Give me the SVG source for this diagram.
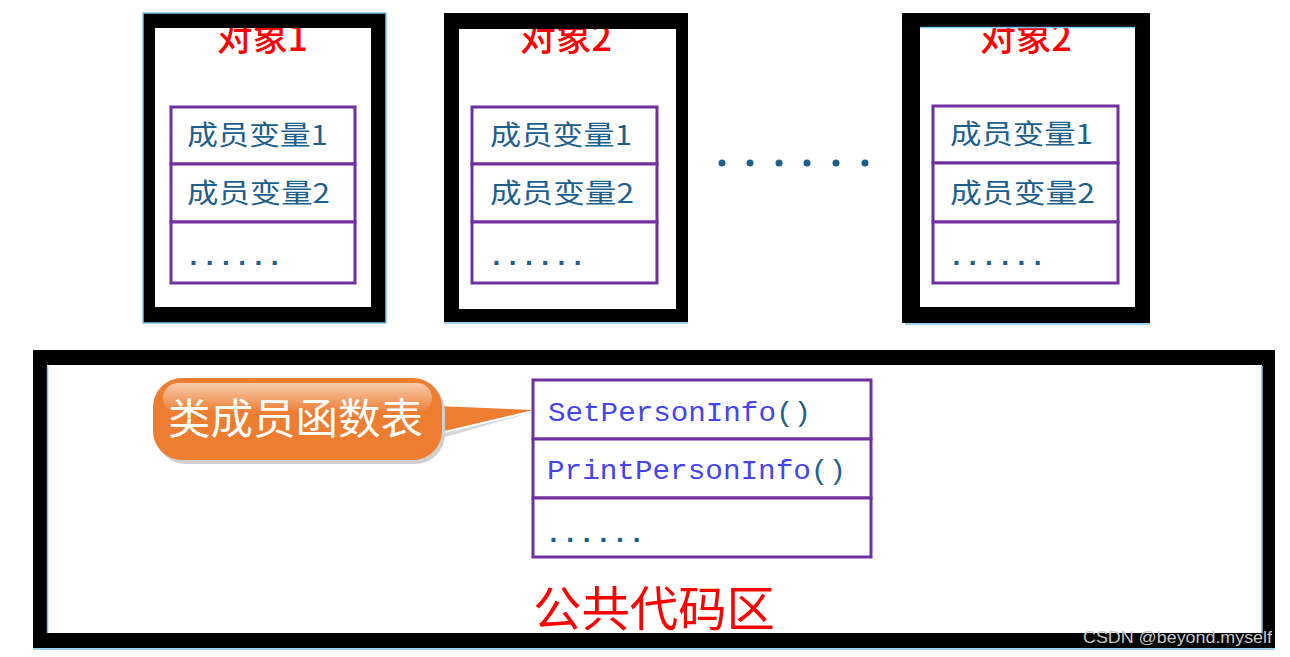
<svg xmlns="http://www.w3.org/2000/svg" width="1290" height="657" viewBox="0 0 1290 657">
<style>
.title{font-family:"Noto Sans CJK SC","Liberation Serif",serif;font-size:36px;fill:#ff0000;font-weight:500}
.mem{font-family:"Noto Sans CJK SC","Liberation Sans",sans-serif;font-size:27px;fill:#1f5f8c;font-weight:400}
.dots{font-family:"Liberation Mono","Noto Sans CJK SC",monospace;font-size:28px;fill:#1f5f8c;font-weight:bold}
.cell{fill:#ffffff;stroke:#7030a0;stroke-width:3}
.frame{fill:#000000;fill-rule:evenodd}
.fn{font-family:"Liberation Mono","DejaVu Sans Mono",monospace;font-size:27px;fill:#4444f0}
.par{fill:#1f5f8c}
.edge{fill:none;stroke:#7cc3ee;stroke-width:1.5}
</style>
<defs>
<linearGradient id="gloss" x1="0" y1="0" x2="0" y2="1">
<stop offset="0" stop-color="#ffffff" stop-opacity="0.6"/>
<stop offset="1" stop-color="#ffffff" stop-opacity="0"/>
</linearGradient>
</defs>
<rect width="1290" height="657" fill="#ffffff"/>

<g id="object1">
<rect x="155" y="28" width="216" height="279" fill="#ffffff"/>
<text class="title" x="217" y="51" textLength="91" lengthAdjust="spacingAndGlyphs">对象1</text>
<rect class="cell" x="171" y="107" width="184" height="57"/>
<rect class="cell" x="171" y="164" width="184" height="58"/>
<rect class="cell" x="171" y="222" width="184" height="61"/>
<text class="mem" x="187" y="145" textLength="141" lengthAdjust="spacingAndGlyphs">成员变量1</text>
<text class="mem" x="187" y="203" textLength="143" lengthAdjust="spacingAndGlyphs">成员变量2</text>
<text class="dots" x="185" y="265" textLength="98" lengthAdjust="spacing">......</text>
<path class="frame" d="M143 13H386V323H143Z M155 28V307H371V28Z"/>
<rect class="edge" x="143" y="13" width="243" height="310"/>
</g>

<g id="object2">
<rect x="459" y="29" width="217" height="280" fill="#ffffff"/>
<text class="title" x="520" y="51" textLength="92" lengthAdjust="spacingAndGlyphs">对象2</text>
<rect class="cell" x="472" y="107" width="185" height="57"/>
<rect class="cell" x="472" y="164" width="185" height="58"/>
<rect class="cell" x="472" y="222" width="185" height="61"/>
<text class="mem" x="490" y="145" textLength="142" lengthAdjust="spacingAndGlyphs">成员变量1</text>
<text class="mem" x="490" y="203" textLength="144" lengthAdjust="spacingAndGlyphs">成员变量2</text>
<text class="dots" x="488" y="265" textLength="98" lengthAdjust="spacing">......</text>
<path class="frame" d="M444 13H688V322H444Z M459 29V309H676V29Z"/>
<line class="edge" x1="444" y1="323" x2="688" y2="323"/>
</g>

<g id="ellipsis">
<circle cx="722" cy="163" r="3.5" fill="#1f5f8c"/>
<circle cx="750" cy="163" r="3.5" fill="#1f5f8c"/>
<circle cx="779" cy="163" r="3.5" fill="#1f5f8c"/>
<circle cx="807" cy="163" r="3.5" fill="#1f5f8c"/>
<circle cx="836" cy="163" r="3.5" fill="#1f5f8c"/>
<circle cx="865" cy="163" r="3.5" fill="#1f5f8c"/>
</g>

<g id="object3">
<rect x="920" y="27" width="215" height="280" fill="#ffffff"/>
<text class="title" x="980" y="51" textLength="92" lengthAdjust="spacingAndGlyphs">对象2</text>
<rect class="cell" x="933" y="106" width="185" height="57"/>
<rect class="cell" x="933" y="163" width="185" height="59"/>
<rect class="cell" x="933" y="222" width="185" height="61"/>
<text class="mem" x="950" y="144" textLength="143" lengthAdjust="spacingAndGlyphs">成员变量1</text>
<text class="mem" x="950" y="203" textLength="145" lengthAdjust="spacingAndGlyphs">成员变量2</text>
<text class="dots" x="948" y="265" textLength="98" lengthAdjust="spacing">......</text>
<path class="frame" d="M902 13H1150V323H902Z M920 27V307H1135V27Z"/>
<line class="edge" x1="920" y1="27.5" x2="1135" y2="27.5"/>
<line class="edge" x1="905" y1="324" x2="1150" y2="324"/>
</g>

<g id="code-area">
<rect x="47" y="365" width="1215" height="268" fill="#ffffff"/>
<rect class="cell" x="533" y="380" width="338" height="59"/>
<rect class="cell" x="533" y="439" width="338" height="59"/>
<rect class="cell" x="533" y="498" width="338" height="59"/>
<text class="fn" x="548" y="421" textLength="263" lengthAdjust="spacingAndGlyphs">SetPersonInfo<tspan class="par">()</tspan></text>
<text class="fn" x="547" y="479" textLength="299" lengthAdjust="spacingAndGlyphs">PrintPersonInfo<tspan class="par">()</tspan></text>
<text class="dots" x="545" y="542" textLength="100" lengthAdjust="spacing">......</text>
<text x="533" y="626" font-family="Noto Sans CJK SC, Liberation Serif, serif" font-size="48" fill="#ff0000" textLength="242" lengthAdjust="spacingAndGlyphs">公共代码区</text>
<path class="frame" d="M33 350H1275V648H33Z M47 365V633H1262V365Z"/>
<line class="edge" x1="47.5" y1="366" x2="47.5" y2="633"/>
<line class="edge" x1="1262" y1="366" x2="1262" y2="633"/>
<line class="edge" x1="33" y1="649" x2="1275" y2="649"/>
</g>

<g id="connectors">
<path d="M436 406 L533 410 L436 433 Z" fill="#ed7d31"/>
<path d="M440 434 L533 412 L442 438 Z" fill="#b0b0b0" opacity="0.5"/>
</g>

<g id="callout">
<rect x="156" y="381" width="289" height="83" rx="30" fill="#cfcfcf"/>
<rect x="153" y="378" width="289" height="82" rx="29" fill="#ed7d31"/>
<rect x="163" y="383" width="269" height="30" rx="15" fill="url(#gloss)"/>
<text x="168" y="434" font-family="Noto Sans CJK SC, Liberation Serif, serif" font-size="42" fill="#ffffff" textLength="255" lengthAdjust="spacingAndGlyphs">类成员函数表</text>
</g>

<text x="1083" y="643" font-family="Liberation Sans, Arial, sans-serif" font-size="17" fill="#c8c8c8" textLength="189" lengthAdjust="spacingAndGlyphs">CSDN @beyond.myself</text>
</svg>
